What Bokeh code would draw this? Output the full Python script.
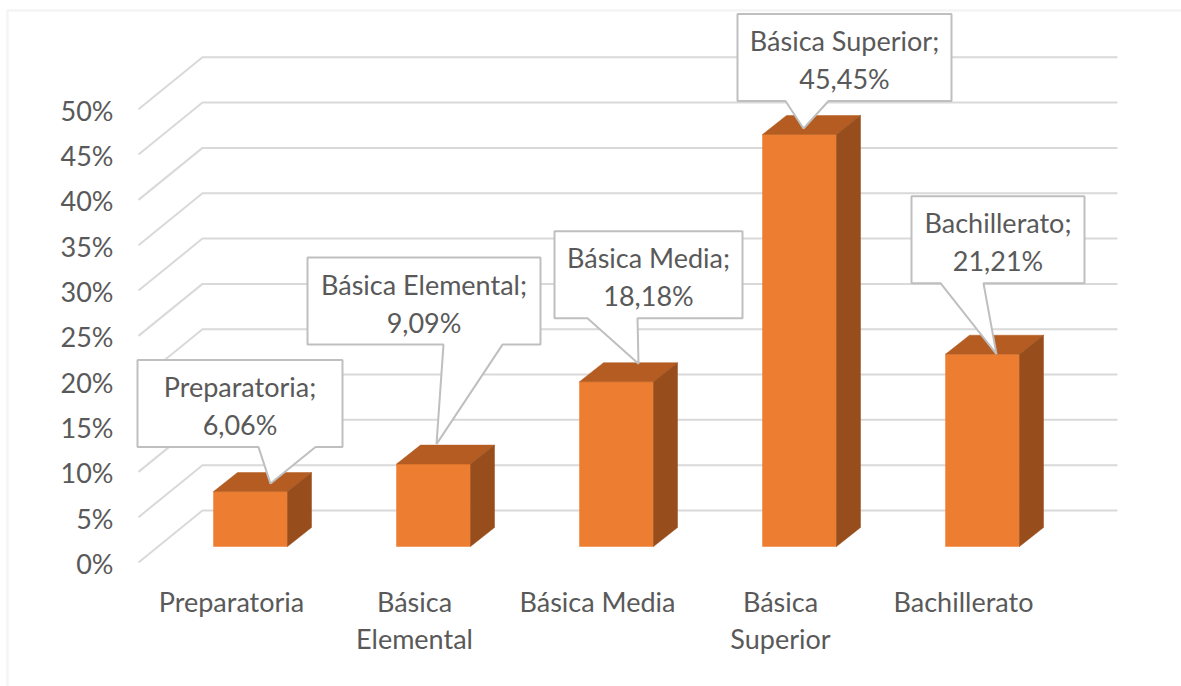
from bokeh.plotting import figure
from bokeh.models import Range1d, BoxAnnotation
from bokeh.core.properties import value
from bokeh.embed import file_html
from bokeh.resources import INLINE

# ---------------- data ----------------
categories = ["Preparatoria", "Básica Elemental", "Básica Media", "Básica Superior", "Bachillerato"]
axis_labels = ["Preparatoria", "Básica\nElemental", "Básica Media", "Básica\nSuperior", "Bachillerato"]
percentages = [6.06, 9.09, 18.18, 45.45, 21.21]
tick_values = [0, 5, 10, 15, 20, 25, 30, 35, 40, 45, 50]
tick_labels = ["0%", "5%", "10%", "15%", "20%", "25%", "30%", "35%", "40%", "45%", "50%"]

# ---------------- layout / style ----------------
W, H = 1181, 686
X0, DX = 250.0, 183.0     # pixel of first bar centre, pixels per category
Y0, SY = 546.0, 9.065     # pixel of 0 % on bar front plane, pixels per percent

FONT = "Lato"
FS = "27px"
TXT = "#595959"
GRID = "#D9D9D9"
FRONT, TOP, SIDE = "#ED7D31", "#B45C21", "#974E1C"

def ux(px):
    return px / DX

def uy(py):
    return -py / SY

HALF_W = ux(37)
DEPTH_X, DEPTH_Y = ux(24), uy(-19)
FLOOR_FRONT_DY = uy(16)
BACK_DY = uy(-36)
WALL_FRONT_X, WALL_BACK_X, WALL_END_X = ux(138 - X0), ux(202 - X0), ux(1117 - X0)

# callout geometry (pixels, relative to bar front-top centre)
box_off = [(-10.5, -88), (-9.5, -163), (32, -107), (45, -77), (15.5, -114.5)]
box_w = [205, 233, 188, 214, 173]
box_h = 87
wedge = [(18.5, 75.5), (19.5, 78.5), (-61, -11), (-59, -16), (-57.5, -14.5)]
tip_off = [(20, -8), (3, -20), (22, -18), (4, -6), (14, 0)]

p = figure(width=W, height=H,
           x_range=Range1d(-X0 / DX, (W - X0) / DX),
           y_range=Range1d((Y0 - H) / SY, Y0 / SY),
           min_border=0, toolbar_location=None, output_backend="svg",
           x_axis_type=None, y_axis_type=None)
p.outline_line_color = None
p.background_fill_color = "white"
p.border_fill_color = "white"

# chart border
p.add_layout(BoxAnnotation(left=ux(7 - X0), right=ux(W + 30 - X0),
                           top=(Y0 - 10) / SY, bottom=(Y0 - H - 30) / SY,
                           fill_alpha=0, line_color=GRID, line_width=2.5))

# 3D gridlines (left wall + back wall)
gxs, gys = [], []
for t in tick_values:
    gxs.append([WALL_FRONT_X, WALL_BACK_X, WALL_END_X])
    gys.append([t + FLOOR_FRONT_DY, t + BACK_DY, t + BACK_DY])
p.multi_line(gxs, gys, line_color=GRID, line_width=2)

# y tick labels
p.text(x=[ux(113 - X0)] * len(tick_values),
       y=[t + FLOOR_FRONT_DY + uy(1) for t in tick_values],
       text=tick_labels, text_align="right", text_baseline="middle",
       text_font=value(FONT), text_font_size=FS, text_color=TXT)

# bars
xs = list(range(len(categories)))
p.quad(left=[x - HALF_W for x in xs], right=[x + HALF_W for x in xs],
       bottom=[0] * len(xs), top=percentages,
       fill_color=FRONT, line_color=FRONT, line_width=0.5)
top_x, top_y, side_x, side_y = [], [], [], []
for x, v in zip(xs, percentages):
    l, r = x - HALF_W, x + HALF_W
    top_x.append([l, r, r + DEPTH_X, l + DEPTH_X])
    top_y.append([v, v, v + DEPTH_Y, v + DEPTH_Y])
    side_x.append([r, r, r + DEPTH_X, r + DEPTH_X])
    side_y.append([0, v, v + DEPTH_Y, DEPTH_Y])
p.patches(top_x, top_y, fill_color=TOP, line_color=TOP, line_width=0.5)
p.patches(side_x, side_y, fill_color=SIDE, line_color=SIDE, line_width=0.5)

# category labels
l1x, l1y, l1t, l2x, l2y, l2t = [], [], [], [], [], []
for x, lab in zip(xs, axis_labels):
    parts = lab.split("\n")
    l1x.append(x + ux(-19)); l1y.append(uy(55)); l1t.append(parts[0])
    if len(parts) > 1:
        l2x.append(x + ux(-19)); l2y.append(uy(92)); l2t.append(parts[1])
p.text(x=l1x, y=l1y, text=l1t, text_align="center", text_baseline="middle",
       text_font=value(FONT), text_font_size=FS, text_color=TXT)
p.text(x=l2x, y=l2y, text=l2t, text_align="center", text_baseline="middle",
       text_font=value(FONT), text_font_size=FS, text_color=TXT)

# callouts
cx_list, cy_list, line1, line2 = [], [], [], []
px_, py_ = [], []
for i, (x, v) in enumerate(zip(xs, percentages)):
    bx = x + ux(box_off[i][0])
    by = v + uy(box_off[i][1])
    hw, hh = ux(box_w[i] / 2), box_h / 2 / SY
    tx, ty = x + ux(tip_off[i][0]), v + uy(tip_off[i][1])
    wl, wr = bx + ux(wedge[i][0]), bx + ux(wedge[i][1])
    px_.append([bx - hw, bx + hw, bx + hw, wr, tx, wl, bx - hw])
    py_.append([by + hh, by + hh, by - hh, by - hh, ty, by - hh, by - hh])
    cx_list.append(bx)
    cy_list.append(by)
    line1.append(categories[i] + ";")
    line2.append(f"{v:.2f}".replace(".", ",") + "%")
p.patches(px_, py_, fill_color="white", line_color="#BFBFBF", line_width=2)
p.text(x=cx_list, y=[c + uy(-17) for c in cy_list], text=line1,
       text_align="center", text_baseline="middle",
       text_font=value(FONT), text_font_size=FS, text_color=TXT)
p.text(x=cx_list, y=[c + uy(21) for c in cy_list], text=line2,
       text_align="center", text_baseline="middle",
       text_font=value(FONT), text_font_size=FS, text_color=TXT)

open("out.html", "w").write(file_html(p, INLINE))
